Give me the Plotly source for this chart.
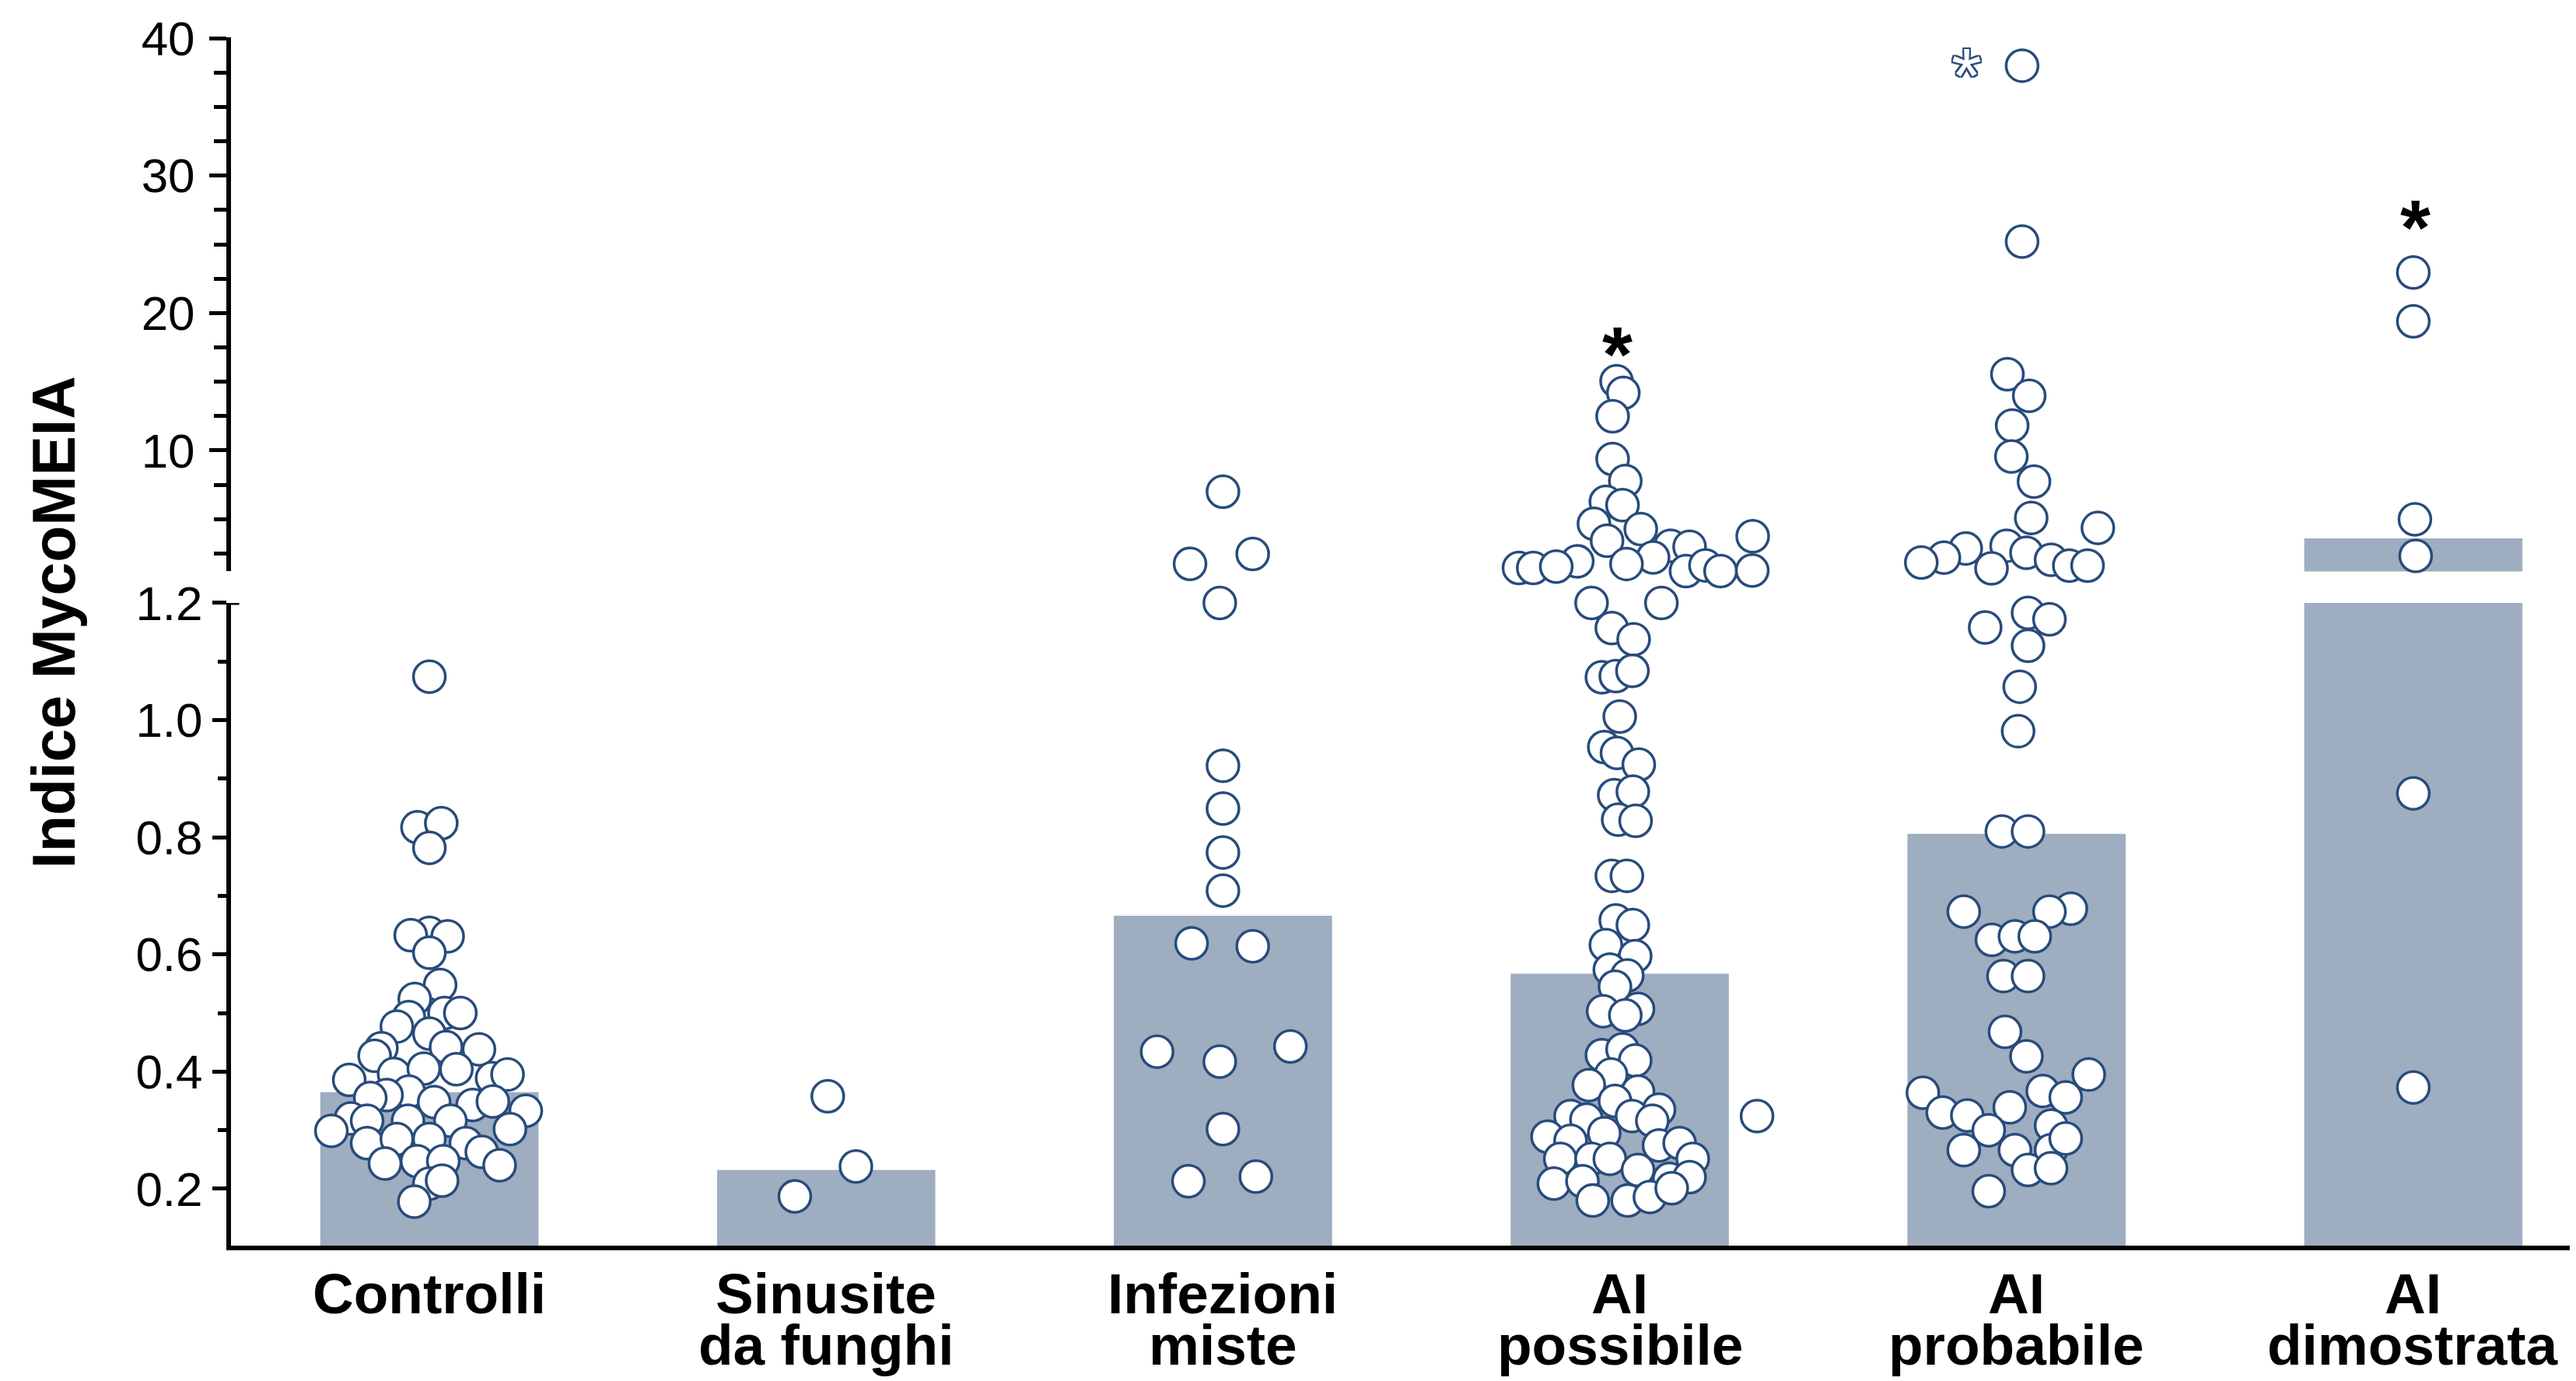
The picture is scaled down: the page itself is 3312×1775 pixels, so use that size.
import plotly.graph_objects as go

# ---------------- data ----------------
categories = ["Controlli", "Sinusite da funghi", "Infezioni miste",
              "AI possibile", "AI probabile", "AI dimostrata"]
label_line1 = ["Controlli", "Sinusite", "Infezioni", "AI", "AI", "AI"]
label_line2 = ["", "da funghi", "miste", "possibile", "probabile", "dimostrata"]
bar_means = [0.365, 0.232, 0.666, 0.567, 0.806, 3.6]

controlli_values = [1.074, 0.817, 0.824, 0.782, 0.637, 0.633, 0.631, 0.603, 0.548, 0.524,
                    0.493, 0.500, 0.500, 0.477, 0.465, 0.442, 0.438, 0.440, 0.427, 0.396,
                    0.405, 0.404, 0.389, 0.395, 0.386, 0.366, 0.360, 0.355, 0.348, 0.343,
                    0.349, 0.333, 0.320, 0.316, 0.316, 0.316, 0.299, 0.302, 0.278, 0.285,
                    0.285, 0.278, 0.263, 0.243, 0.247, 0.247, 0.240, 0.209, 0.214, 0.178]
controlli_offsets = [0.0, -0.030, 0.030, 0.0, 0.0, -0.047, 0.046, 0.0, 0.027, -0.037,
                     -0.052, 0.038, 0.078, -0.082, 0.0, 0.042, 0.125, -0.121, -0.138, -0.089,
                     -0.014, 0.068, 0.158, 0.197, -0.202, -0.052, -0.108, -0.149, 0.012, 0.109,
                     0.160, 0.243, -0.198, -0.157, -0.054, 0.053, -0.247, 0.203, -0.157, -0.082,
                     0.0, 0.092, 0.132, -0.112, -0.031, 0.035, 0.177, 0.0, 0.032, -0.038]

sinusite_values = [0.187, 0.358, 0.238]
sinusite_offsets = [-0.079, 0.004, 0.075]

infezioni_values = [7.0, 1.75, 2.47, 1.2, 0.922, 0.849, 0.774, 0.709, 0.619, 0.614,
                    0.434, 0.443, 0.417, 0.302, 0.213, 0.221]
infezioni_offsets = [0.0, -0.083, 0.075, -0.008, 0.0, 0.0, 0.0, 0.0, -0.079, 0.075,
                     -0.166, 0.170, -0.008, 0.0, -0.087, 0.083]

possibile_values = [15.04, 14.19, 12.49, 9.38, 7.78, 6.26, 6.02, 4.66, 4.28, 3.43,
                    3.06, 3.00, 3.76, 2.21, 1.74, 1.93, 1.20, 1.45, 1.45, 1.55,
                    1.20, 1.23, 1.64, 1.23, 1.27,
                    1.157, 1.138, 1.073, 1.075, 1.084, 1.006, 0.954, 0.944, 0.924, 0.872,
                    0.878, 0.830, 0.828, 0.734, 0.734, 0.658, 0.650, 0.616, 0.597, 0.574,
                    0.564, 0.545, 0.503, 0.507, 0.496, 0.428, 0.438, 0.419, 0.395, 0.377,
                    0.366, 0.350, 0.335, 0.324, 0.318, 0.324, 0.316, 0.289, 0.295, 0.282,
                    0.274, 0.278, 0.251, 0.251, 0.251, 0.251, 0.232, 0.209, 0.213, 0.217,
                    0.220, 0.180, 0.180, 0.186, 0.201, 0.324]
possibile_offsets = [-0.008, 0.009, -0.018, -0.018, 0.014, -0.035, 0.007, -0.065, 0.053, -0.032,
                     0.128, 0.176, 0.335, 0.084, 0.017, -0.107, -0.071, -0.254, -0.218, -0.160,
                     0.105, 0.167, 0.216, 0.254, 0.334,
                     -0.020, 0.035, -0.045, -0.010, 0.032, 0.0, -0.039, -0.007, 0.048, -0.014,
                     0.033, -0.004, 0.040, -0.020, 0.018, -0.010, 0.033, -0.035, 0.039, -0.025,
                     0.019, -0.012, -0.042, 0.046, 0.014, -0.045, 0.007, 0.039, -0.022, -0.078,
                     0.046, -0.012, 0.099, -0.124, -0.084, 0.031, 0.082, -0.182, -0.039, -0.124,
                     0.099, 0.151, 0.184, -0.150, -0.071, -0.025, 0.046, -0.166, -0.094, 0.125,
                     0.176, -0.068, 0.020, 0.076, 0.131, 0.346]

probabile_values = [38.0, 25.2, 15.55, 13.98, 11.81, 9.56, 7.74, 5.09, 4.36, 3.07,
                    2.55, 2.87, 2.20, 1.85, 1.42, 2.05, 1.62, 1.62,
                    1.158, 1.183, 1.172, 1.127, 1.057, 0.981, 0.810, 0.810, 0.673, 0.678,
                    0.673, 0.625, 0.631, 0.631, 0.563, 0.563, 0.468, 0.426, 0.395, 0.364,
                    0.330, 0.325, 0.339, 0.367, 0.356, 0.300, 0.266, 0.266, 0.308, 0.266,
                    0.286, 0.232, 0.235, 0.196]
probabile_offsets = [0.014, 0.014, -0.023, 0.032, -0.011, -0.013, 0.044, 0.037, 0.205, -0.025,
                     0.025, -0.128, -0.183, -0.240, -0.063, 0.087, 0.133, 0.179,
                     -0.079, 0.029, 0.083, 0.029, 0.008, 0.004, -0.037, 0.029, -0.133, 0.137,
                     0.083, -0.062, -0.004, 0.046, -0.033, 0.029, -0.029, 0.025, 0.182, -0.236,
                     -0.186, -0.124, -0.017, 0.066, 0.124, -0.070, -0.133, -0.004, 0.087, 0.087,
                     0.124, 0.029, 0.087, -0.070]

dimostrata_values = [22.95, 19.40, 4.99, 2.33, 0.875, 0.373]
dimostrata_offsets = [0.0, 0.0, 0.004, 0.006, 0.0, 0.0]

group_values = [controlli_values, sinusite_values, infezioni_values,
                possibile_values, probabile_values, dimostrata_values]
group_offsets = [controlli_offsets, sinusite_offsets, infezioni_offsets,
                 possibile_offsets, probabile_offsets, dimostrata_offsets]

# significance marks: (category index, offset, value, style)
sig_marks = [(3, -0.005, 18.25, "solid"), (5, 0.005, 27.5, "solid"), (4, -0.125, 38.55, "open")]

# ---------------- style ----------------
BAR = "#9EADC0"
EDGE = "#284B7C"
FONT = "Liberation Sans, Arial, Helvetica, sans-serif"
BREAK = 1.2  # values above go to the upper segment

fig = go.Figure()

xs_idx = list(range(len(categories)))
fig.add_trace(go.Bar(x=xs_idx, y=bar_means, width=0.55, marker=dict(color=BAR, line=dict(width=0)),
                     yaxis="y", xaxis="x", hoverinfo="skip"))
fig.add_trace(go.Bar(x=xs_idx, y=bar_means, width=0.55, marker=dict(color=BAR, line=dict(width=0)),
                     yaxis="y2", xaxis="x", hoverinfo="skip"))

lx, ly, ux, uy = [], [], [], []
for i, (vals, offs) in enumerate(zip(group_values, group_offsets)):
    for v, o in zip(vals, offs):
        if v > BREAK:
            ux.append(i + o); uy.append(v)
        else:
            lx.append(i + o); ly.append(v)

mk = dict(size=41, color="white", line=dict(color=EDGE, width=3.5))
fig.add_trace(go.Scatter(x=lx, y=ly, mode="markers", marker=mk, cliponaxis=False,
                         yaxis="y", xaxis="x"))
fig.add_trace(go.Scatter(x=ux, y=uy, mode="markers", marker=mk, cliponaxis=False,
                         yaxis="y2", xaxis="x"))

ann = []
for i in xs_idx:
    ann.append(dict(x=i, y=-0.0393, xref="x", yref="paper", text="<b>%s</b>" % label_line1[i],
                    showarrow=False, yanchor="middle", font=dict(family=FONT, size=73, color="black")))
    if label_line2[i]:
        ann.append(dict(x=i, y=-0.0818, xref="x", yref="paper", text="<b>%s</b>" % label_line2[i],
                        showarrow=False, yanchor="middle", font=dict(family=FONT, size=73, color="black")))

ann.append(dict(x=-0.0758, y=0.5158, xref="paper", yref="paper", text="<b>Indice MycoMEIA</b>",
                textangle=-90, showarrow=False, xanchor="center", yanchor="middle",
                font=dict(family=FONT, size=77, color="black")))

for (ci, off, val, style) in sig_marks:
    if style == "solid":
        ann.append(dict(x=ci + off, y=val, xref="x", yref="y2", text="<b>*</b>", showarrow=False,
                        yanchor="middle", yshift=-22,
                        font=dict(family=FONT, size=100, color="black")))
    else:
        sh = ", ".join("%dpx %dpx 0 %s" % (a, b, EDGE) for a, b in
                       [(-2, 0), (2, 0), (0, -2), (0, 2), (-2, -2), (2, 2), (-2, 2), (2, -2)])
        ann.append(dict(x=ci + off, y=val, xref="x", yref="y2", text="*", showarrow=False,
                        yanchor="middle", yshift=-22,
                        font=dict(family=FONT, size=100, color="white", shadow=sh)))

tickfont = dict(family=FONT, size=62, color="black")

# small cap at the top of the lower axis segment
shapes = [dict(type="line", xref="paper", yref="y", x0=0, x1=0.0035, y0=1.2, y1=1.2,
               line=dict(color="black", width=5))]

# page body has an 8px margin: figure is sized/offset so the plot lands where the reference has it
fig.update_layout(
    width=3304, height=1767,
    margin=dict(l=289, r=0, t=40, b=174),
    paper_bgcolor="white", plot_bgcolor="white",
    showlegend=False, barmode="overlay",
    annotations=ann, shapes=shapes,
    xaxis=dict(range=[-0.5, 5.41], showline=True, linewidth=6, linecolor="black",
               showticklabels=False, ticks="", showgrid=False, zeroline=False, anchor="y"),
    yaxis=dict(domain=[0, 0.5319], range=[0.103, 1.2], showline=True, linewidth=6,
               linecolor="black", ticks="outside", ticklen=18, tickwidth=5, tickcolor="black",
               tickmode="array", tickvals=[0.2, 0.4, 0.6, 0.8, 1.0, 1.2],
               ticktext=["0.2", "0.4", "0.6", "0.8", "1.0", "1.2"],
               minor=dict(tickmode="array", tickvals=[0.3, 0.5, 0.7, 0.9, 1.1], ticks="outside",
                          ticklen=11, tickwidth=5, tickcolor="black", showgrid=False),
               tickfont=tickfont, showgrid=False, zeroline=False, anchor="x"),
    yaxis2=dict(domain=[0.558, 1.0], range=[1.2, 40.06], showline=True, linewidth=6,
                linecolor="black", ticks="outside", ticklen=22, tickwidth=5, tickcolor="black",
                tickmode="array", tickvals=[10, 20, 30, 40], ticktext=["10", "20", "30", "40"],
                ticklabelstandoff=6,
                minor=dict(tickmode="array",
                           tickvals=[2.5, 5, 7.5, 12.5, 15, 17.5, 22.5, 25, 27.5, 32.5, 35, 37.5],
                           ticks="outside", ticklen=16, tickwidth=5, tickcolor="black", showgrid=False),
                tickfont=tickfont, showgrid=False, zeroline=False, anchor="x"),
)

fig.write_html("out.html")
